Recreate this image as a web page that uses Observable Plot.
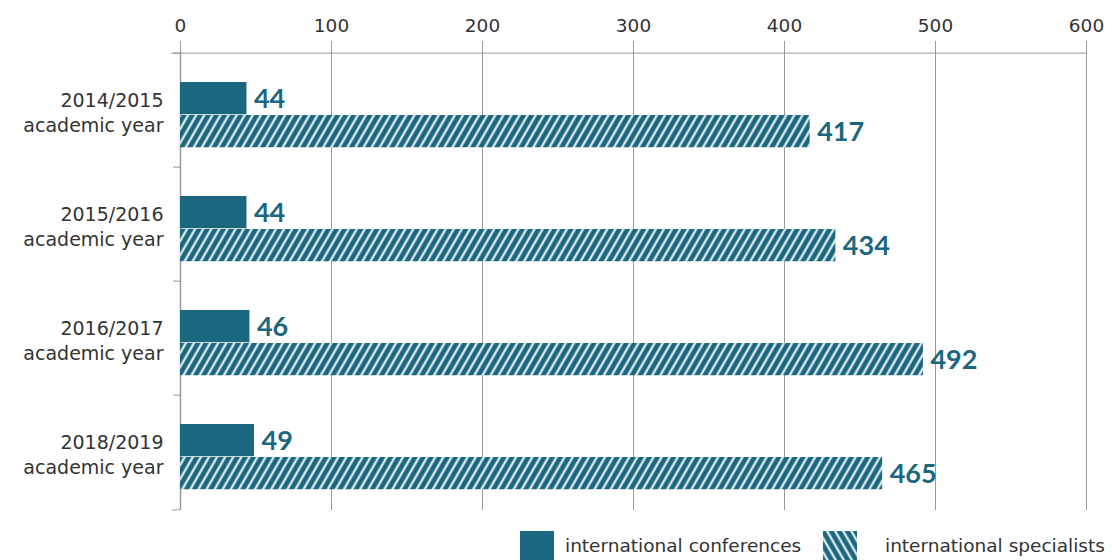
<!DOCTYPE html>
<html><head><meta charset="utf-8">
<script src="https://cdn.jsdelivr.net/npm/d3@7"></script>
<script src="https://cdn.jsdelivr.net/npm/@observablehq/plot@0.6"></script>
<style>
body{margin:0;background:#fff;font-family:"DejaVu Sans",sans-serif;}
#wrap{position:relative;width:1112px;height:560px;overflow:hidden;}
#legend{position:absolute;left:0;top:531px;width:1112px;height:30px;font-size:18.5px;color:#333;font-family:"DejaVu Sans",sans-serif;}
#legend .item{position:absolute;top:0;display:flex;align-items:flex-start;}
#legend svg{display:block;}
#legend span{line-height:30px;white-space:nowrap;}
</style></head><body>
<div id="wrap"><div id="chart"></div><div id="legend"></div></div>
<script>
const years = ["2014/2015","2015/2016","2016/2017","2018/2019"];
const yearSuffix = "academic year";
const conferences = [44,44,46,49];
const specialists = [417,434,492,465];
const xTicks = [0,100,200,300,400,500,600];
const seriesNames = ["international conferences","international specialists"];

const teal = "#1b6780";
const W = 1112, H = 520, mT = 51, mB = 10, mL = 180, mR = 26;
const bw = (H - mT - mB) / years.length;

const confData = years.map((y,i)=>({year:y, value:conferences[i]}));
const specData = years.map((y,i)=>({year:y, value:specialists[i]}));

const chart = Plot.plot({
  width: W, height: H,
  marginTop: mT, marginBottom: mB, marginLeft: mL, marginRight: mR,
  style: {fontFamily: "'DejaVu Sans', sans-serif", color: "#333", background: "#fff"},
  x: {domain: [0, 600]},
  y: {domain: years, padding: 0, axis: null},
  marks: [
    Plot.gridX(xTicks, {stroke: "#9a9a9a", strokeOpacity: 1, strokeWidth: 1}),
    Plot.axisX(xTicks, {anchor: "top", tickSize: 11, tickPadding: 9, fontSize: 18.5, stroke: "#9a9a9a", fill: "#333", label: null}),
    Plot.ruleY([years[0]], {y: d=>d, x1: 0, x2: 600, insetLeft: -9, dy: -bw/2, stroke: "#9a9a9a"}),
    Plot.ruleX([0], {stroke: "#9a9a9a", strokeWidth: 1.5}),
    Plot.ruleY(years, {y: d=>d, x1: 0, x2: 0, insetLeft: -7, dy: -bw/2, stroke: "#9a9a9a"}),
    Plot.ruleY([years[years.length-1]], {y: d=>d, x1: 0, x2: 0, insetLeft: -8, dy: bw/2, stroke: "#9a9a9a"}),
    Plot.barX(confData, {x: "value", y: "year", fill: teal, insetTop: 29, insetBottom: bw - 62}),
    Plot.barX(specData, {x: "value", y: "year", fill: "url(#hatchBar)", insetTop: 62, insetBottom: bw - 95}),
    Plot.text(confData, {x: "value", y: "year", text: d=>String(d.value), dx: 7, dy: -11.5, textAnchor: "start", fontSize: 27, fontWeight: "bold", fontFamily: "Lato, sans-serif", fill: teal}),
    Plot.text(specData, {x: "value", y: "year", text: d=>String(d.value), dx: 7, dy: 21.5, textAnchor: "start", fontSize: 27, fontWeight: "bold", fontFamily: "Lato, sans-serif", fill: teal}),
    Plot.text(years, {x: 0, y: d=>d, text: d=> d + "\n" + yearSuffix, textAnchor: "end", dx: -17, dy: 1, fontSize: 19, lineHeight: 1.3, fill: "#333"})
  ]
});

// hatch pattern defs
const ns = "http://www.w3.org/2000/svg";
function addPattern(svg, id, angle){
  let defs = svg.querySelector("defs");
  if(!defs){ defs = document.createElementNS(ns,"defs"); svg.insertBefore(defs, svg.firstChild); }
  const p = document.createElementNS(ns,"pattern");
  p.setAttribute("id", id); p.setAttribute("patternUnits","userSpaceOnUse");
  p.setAttribute("width","7"); p.setAttribute("height","10");
  p.setAttribute("patternTransform", `rotate(${angle})`);
  const r = document.createElementNS(ns,"rect");
  r.setAttribute("width","7"); r.setAttribute("height","10"); r.setAttribute("fill", teal);
  const l = document.createElementNS(ns,"line");
  l.setAttribute("x1","3.5"); l.setAttribute("x2","3.5"); l.setAttribute("y1","0"); l.setAttribute("y2","10");
  l.setAttribute("stroke","#fff"); l.setAttribute("stroke-width","2");
  p.appendChild(r); p.appendChild(l); defs.appendChild(p);
}
addPattern(chart, "hatchBar", 30);
document.getElementById("chart").appendChild(chart);

// legend
const legend = document.getElementById("legend");
const legendLeft = [520, 823];
const legendGap = [11, 28];
seriesNames.forEach((name,i)=>{
  const item = document.createElement("div"); item.className = "item";
  item.style.left = legendLeft[i] + "px";
  const s = document.createElementNS(ns,"svg");
  s.setAttribute("width","34"); s.setAttribute("height","30");
  if(i===1) addPattern(s, "hatchLeg", -30);
  const r = document.createElementNS(ns,"rect");
  r.setAttribute("width","34"); r.setAttribute("height","30");
  r.setAttribute("fill", i===0 ? teal : "url(#hatchLeg)");
  s.appendChild(r);
  const t = document.createElement("span"); t.textContent = name;
  t.style.marginLeft = legendGap[i] + "px";
  item.appendChild(s); item.appendChild(t); legend.appendChild(item);
});
</script>
</body></html>
